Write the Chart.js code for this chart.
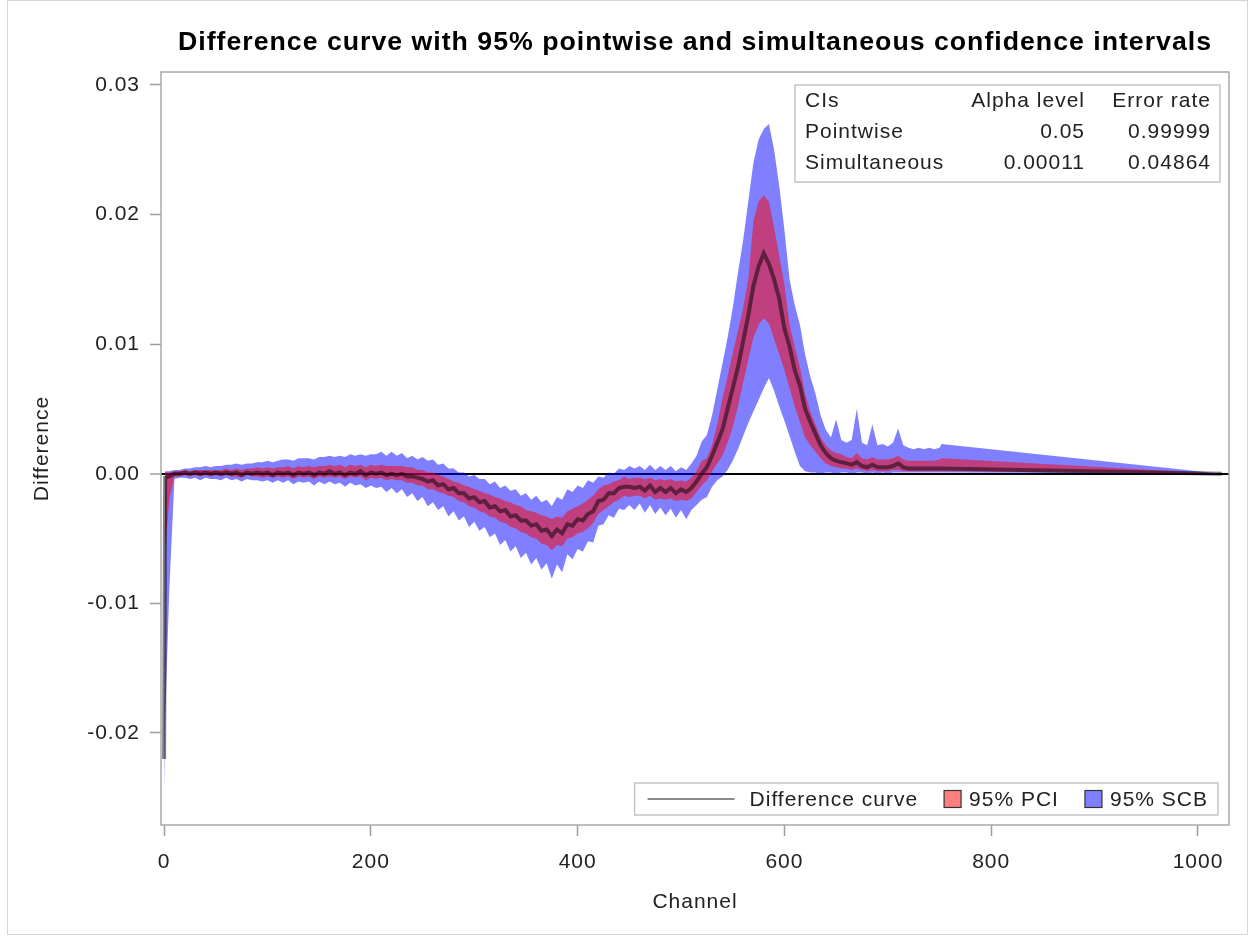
<!DOCTYPE html>
<html lang="en">
<head>
<meta charset="UTF-8">
<title>Difference curve</title>
<script src="https://cdn.jsdelivr.net/npm/chart.js@4.4.1/dist/chart.umd.min.js"></script>
<style>
    html, body { margin: 0; padding: 0; background: #fff; }
    .frame { position: relative; width: 1250px; height: 937px; }
    .frame::after {
        content: '';
        position: absolute;
        left: 7px; top: 0; right: 2px; bottom: 2px;
        border: 1px solid #d6d6d6;
        pointer-events: none;
    }
    canvas { display: block; }
</style>
</head>
<body>
<div class="frame">
    <canvas id="diffChart" width="1250" height="937"></canvas>
</div>
<script>
// Channels sampled every 5 (denser at the start), curve flat after ~750
const channels = [
    0, 1, 5,
    10, 15, 20, 25, 30, 35, 40, 45, 50, 55,
    60, 65, 70, 75, 80, 85, 90, 95, 100, 105,
    110, 115, 120, 125, 130, 135, 140, 145, 150, 155,
    160, 165, 170, 175, 180, 185, 190, 195, 200, 205,
    210, 215, 220, 225, 230, 235, 240, 245, 250, 255,
    260, 265, 270, 275, 280, 285, 290, 295, 300, 305,
    310, 315, 320, 325, 330, 335, 340, 345, 350, 355,
    360, 365, 370, 375, 380, 385, 390, 395, 400, 405,
    410, 415, 420, 425, 430, 435, 440, 445, 450, 455,
    460, 465, 470, 475, 480, 485, 490, 495, 500, 505,
    510, 515, 520, 525, 530, 535, 540, 545, 550, 555,
    560, 565, 570, 575, 580, 585, 590, 595, 600, 605,
    610, 615, 620, 625, 630, 635, 640, 645, 650, 655,
    660, 665, 670, 675, 680, 685, 690, 695, 700, 705,
    710, 715, 720, 725, 730, 735, 740, 745, 750, 752,
    1023
];

const diffCurve = [
    -0.022, -0.0003, -0.0002,
    0, 0, 0.0001, 0, 0.0001, 0, 0.0001, 0, 0.0001, 0,
    0.0001, 0, 0.0001, -0.0001, 0.0001, 0, 0.0001, 0, 0.0001, -0.0001,
    0.0001, 0, 0.0001, -0.0001, 0.0001, 0, 0.0001, -0.0001, 0.0001, 0,
    0.0002, 0, 0.0001, -0.0001, 0.0001, 0, 0.0002, -0.0001, 0.0001, 0,
    0.0001, -0.0001, 0, -0.0001, 0, -0.0002, -0.0002, -0.0003, -0.0004, -0.0006,
    -0.0005, -0.0009, -0.0008, -0.0012, -0.0011, -0.0015, -0.0015, -0.0019, -0.0018, -0.0022,
    -0.0021, -0.0026, -0.0025, -0.0029, -0.0028, -0.0033, -0.0032, -0.0036, -0.0036, -0.004,
    -0.0039, -0.0044, -0.0043, -0.0048, -0.0043, -0.0046, -0.0039, -0.004, -0.0035, -0.0036,
    -0.0031, -0.0029, -0.0021, -0.002, -0.0015, -0.0015, -0.0011, -0.001, -0.001, -0.0011,
    -0.001, -0.0013, -0.0009, -0.0014, -0.0011, -0.0014, -0.0011, -0.0015, -0.0012, -0.0014,
    -0.0011, -0.0006, 0, 0.0005, 0.0014, 0.0024, 0.0034, 0.005, 0.0066, 0.0082,
    0.0102, 0.0122, 0.0145, 0.016, 0.017, 0.0162, 0.015, 0.0135, 0.0112, 0.0098,
    0.008, 0.0068, 0.005, 0.004, 0.0031, 0.0022, 0.0016, 0.0012, 0.001, 0.0009,
    0.0008, 0.0007, 0.0009, 0.0006, 0.0005, 0.0007, 0.0005, 0.0005, 0.0005, 0.0006,
    0.0008, 0.0005, 0.0004, 0.0004, 0.0004, 0.0004, 0.0004, 0.0004, 0.0004, 0.0004,
    0
];

// 95% pointwise confidence interval
const pciLower = [
    -0.0232, -0.006, -0.002,
    -0.0002, -0.0002, -0.0001, -0.0002, -0.0001, -0.0002, -0.0001, -0.0002, -0.0001, -0.0002,
    -0.0001, -0.0002, -0.0002, -0.0003, -0.0001, -0.0002, -0.0002, -0.0003, -0.0002, -0.0003,
    -0.0002, -0.0003, -0.0002, -0.0004, -0.0002, -0.0003, -0.0002, -0.0004, -0.0002, -0.0003,
    -0.0002, -0.0003, -0.0002, -0.0004, -0.0002, -0.0003, -0.0002, -0.0005, -0.0003, -0.0004,
    -0.0003, -0.0005, -0.0004, -0.0005, -0.0005, -0.0007, -0.0007, -0.0009, -0.0009, -0.0012,
    -0.0012, -0.0014, -0.0015, -0.0017, -0.0018, -0.0021, -0.0022, -0.0025, -0.0026, -0.0029,
    -0.003, -0.0033, -0.0034, -0.0037, -0.0038, -0.0041, -0.0042, -0.0045, -0.0046, -0.0049,
    -0.005, -0.0054, -0.0055, -0.0059, -0.0055, -0.0056, -0.005, -0.0049, -0.0046, -0.0045,
    -0.0042, -0.0038, -0.0031, -0.0028, -0.0025, -0.0022, -0.002, -0.0017, -0.0018, -0.0017,
    -0.0017, -0.0019, -0.0017, -0.002, -0.0019, -0.002, -0.0019, -0.0021, -0.002, -0.0021,
    -0.0019, -0.0014, -0.0009, -0.0005, 0.0002, 0.0008, 0.0014, 0.0024, 0.0036, 0.0052,
    0.007, 0.0088, 0.0105, 0.0115, 0.012, 0.0116, 0.0104, 0.0092, 0.008, 0.0066,
    0.0052, 0.004, 0.0028, 0.0022, 0.0017, 0.0012, 0.0008, 0.0006, 0.0005, 0.0004,
    0.0004, 0.0003, 0.0004, 0.0003, 0.0002, 0.0003, 0.0002, 0.0002, 0.0002, 0.0003,
    0.0003, 0.0002, 0.0002, 0.0002, 0.0002, 0.0002, 0.0002, 0.0002, 0.0002, 0.0002,
    0
];

const pciUpper = [
    -0.0208, 0.0001, 0.0001,
    0.0002, 0.0002, 0.0003, 0.0002, 0.0003, 0.0003, 0.0003, 0.0003, 0.0003, 0.0003,
    0.0004, 0.0003, 0.0004, 0.0003, 0.0004, 0.0004, 0.0005, 0.0004, 0.0005, 0.0004,
    0.0005, 0.0005, 0.0006, 0.0004, 0.0006, 0.0005, 0.0006, 0.0005, 0.0006, 0.0006,
    0.0007, 0.0006, 0.0007, 0.0005, 0.0007, 0.0006, 0.0007, 0.0005, 0.0007, 0.0006,
    0.0007, 0.0006, 0.0006, 0.0006, 0.0006, 0.0005, 0.0005, 0.0003, 0.0003, 0.0001,
    0.0001, -0.0001, -0.0002, -0.0004, -0.0006, -0.0007, -0.0009, -0.001, -0.0012, -0.0013,
    -0.0015, -0.0016, -0.0018, -0.0019, -0.0021, -0.0022, -0.0024, -0.0025, -0.0028, -0.0029,
    -0.003, -0.0032, -0.0033, -0.0035, -0.0033, -0.0034, -0.0029, -0.0027, -0.0025, -0.0023,
    -0.002, -0.0017, -0.0012, -0.0009, -0.0008, -0.0006, -0.0005, -0.0002, -0.0004, -0.0003,
    -0.0003, -0.0004, -0.0003, -0.0005, -0.0004, -0.0005, -0.0004, -0.0006, -0.0005, -0.0006,
    -0.0003, 0.0002, 0.001, 0.0012, 0.0022, 0.0038, 0.0058, 0.0075, 0.0093, 0.011,
    0.0128, 0.015, 0.0195, 0.021, 0.0215, 0.021, 0.019, 0.0168, 0.0146, 0.0115,
    0.0098, 0.0082, 0.0062, 0.0048, 0.0038, 0.0028, 0.0022, 0.0018, 0.0016, 0.0015,
    0.0013, 0.0012, 0.0016, 0.0012, 0.0011, 0.0013, 0.0011, 0.0011, 0.0011, 0.0012,
    0.0014, 0.0011, 0.001, 0.001, 0.001, 0.001, 0.001, 0.001, 0.0011, 0.0012,
    0
];

// 95% simultaneous confidence band
const scbLower = [
    -0.0245, -0.019, -0.009,
    -0.0004, -0.0003, -0.0003, -0.0004, -0.0003, -0.0005, -0.0003, -0.0004, -0.0004, -0.0005,
    -0.0003, -0.0005, -0.0004, -0.0006, -0.0004, -0.0005, -0.0005, -0.0006, -0.0005, -0.0007,
    -0.0005, -0.0007, -0.0005, -0.0008, -0.0006, -0.0007, -0.0006, -0.0009, -0.0006, -0.0008,
    -0.0006, -0.0008, -0.0007, -0.001, -0.0007, -0.0009, -0.0008, -0.0011, -0.0009, -0.0011,
    -0.001, -0.0014, -0.0011, -0.0015, -0.0012, -0.0018, -0.0015, -0.0021, -0.0018, -0.0025,
    -0.0022, -0.0028, -0.0025, -0.0033, -0.0029, -0.0036, -0.0033, -0.0041, -0.0037, -0.0044,
    -0.0041, -0.0049, -0.0046, -0.0055, -0.0051, -0.006, -0.0056, -0.0065, -0.0061, -0.007,
    -0.0065, -0.0074, -0.0069, -0.0081, -0.007, -0.0076, -0.0062, -0.0066, -0.0058, -0.006,
    -0.0052, -0.0053, -0.004, -0.0039, -0.0032, -0.0034, -0.0027, -0.0028, -0.0024, -0.0028,
    -0.0023, -0.003, -0.0024, -0.0031, -0.0026, -0.0032, -0.0027, -0.0034, -0.0028, -0.0035,
    -0.0028, -0.0024, -0.002, -0.0018, -0.001, -0.0005, -0.0002, 0.0003, 0.001, 0.0019,
    0.0029, 0.0039, 0.0048, 0.0057, 0.0066, 0.0074, 0.0064, 0.0052, 0.0041, 0.0029,
    0.0017, 0.0006, 0.0002, 0.0001, 0.0001, 0, 0.0001, 0.0001, 0, 0.0001,
    0.0001, 0, 0.0001, 0.0001, 0, 0.0001, 0, 0.0001, 0, 0.0001,
    0.0001, 0.0001, 0.0001, 0.0001, 0.0001, 0.0001, 0.0001, 0.0001, 0.0001, 0.0001,
    0
];

const scbUpper = [
    -0.0195, 0.0002, 0.0002,
    0.0003, 0.0003, 0.0004, 0.0004, 0.0005, 0.0005, 0.0006, 0.0005, 0.0006, 0.0006,
    0.0007, 0.0007, 0.0008, 0.0007, 0.0008, 0.0008, 0.0009, 0.0009, 0.001, 0.0009,
    0.001, 0.0011, 0.0011, 0.001, 0.0012, 0.0012, 0.0012, 0.0011, 0.0013, 0.0013,
    0.0014, 0.0013, 0.0014, 0.0013, 0.0015, 0.0014, 0.0015, 0.0014, 0.0015, 0.0015,
    0.0017, 0.0014, 0.0017, 0.0014, 0.0016, 0.0012, 0.0014, 0.0011, 0.0013, 0.001,
    0.0011, 0.0007, 0.0008, 0.0004, 0.0004, 0.0001, 0.0001, -0.0002, -0.0001, -0.0004,
    -0.0004, -0.0008, -0.0006, -0.0011, -0.0009, -0.0013, -0.0012, -0.0017, -0.0015, -0.002,
    -0.0017, -0.0022, -0.002, -0.0025, -0.0018, -0.002, -0.0012, -0.0014, -0.0009, -0.0011,
    -0.0005, -0.0007, -0.0002, -0.0003, 0.0001, 0, 0.0004, 0.0003, 0.0006, 0.0004,
    0.0006, 0.0003, 0.0007, 0.0003, 0.0006, 0.0003, 0.0006, 0.0002, 0.0005, 0.0003,
    0.0008, 0.0014, 0.0025, 0.003, 0.0045, 0.0065, 0.0085, 0.0105, 0.0128, 0.0155,
    0.018, 0.021, 0.024, 0.0258, 0.0266, 0.027, 0.025, 0.0222, 0.0188, 0.015,
    0.013, 0.0115, 0.0092, 0.0075, 0.0062, 0.0045, 0.0034, 0.0028, 0.0042, 0.0026,
    0.0024, 0.0026, 0.005, 0.0024, 0.0022, 0.0038, 0.0022, 0.0023, 0.0021, 0.0024,
    0.0035, 0.0022, 0.002, 0.0019, 0.002, 0.0019, 0.002, 0.0019, 0.002, 0.0023,
    0
];

const xTicks = [0, 200, 400, 600, 800, 1000];
const yTicks = [-0.02, -0.01, 0, 0.01, 0.02, 0.03];

const ciTable = [
    ['CIs', 'Alpha level', 'Error rate'],
    ['Pointwise', '0.05', '0.99999'],
    ['Simultaneous', '0.00011', '0.04864']
];

const FONT = "'Liberation Sans', Arial, sans-serif";
const TEXT = '#222';
const SCB_FILL = 'rgba(0, 0, 255, 0.5)';
const PCI_FILL = 'rgba(255, 0, 0, 0.5)';
const CURVE = 'rgba(0, 0, 0, 0.5)';

Chart.defaults.font.family = FONT;
Chart.defaults.color = TEXT;

const toPoints = (values) => channels.map((c, i) => ({ x: c, y: values[i] }));

// SAS-like text is a bit wider than plain Arial
const letterSpacing = {
    id: 'letterSpacing',
    beforeDraw(chart) {
        chart.ctx.letterSpacing = '1px';
    }
};

// Plot frame, inset CI table and bottom-right legend
const decorations = {
    id: 'decorations',
    afterDraw(chart) {
        const { ctx, chartArea: a } = chart;
        ctx.save();

        ctx.strokeStyle = '#a9a9a9';
        ctx.lineWidth = 1.5;
        ctx.strokeRect(a.left, a.top, a.right - a.left, a.bottom - a.top);

        // CI table
        const tb = { width: 425, height: 97 };
        tb.left = a.right - 9 - tb.width;
        tb.top = a.top + 13;
        ctx.fillStyle = '#fff';
        ctx.fillRect(tb.left, tb.top, tb.width, tb.height);
        ctx.strokeStyle = '#c4c4c4';
        ctx.lineWidth = 1.5;
        ctx.strokeRect(tb.left, tb.top, tb.width, tb.height);
        ctx.font = `21px ${FONT}`;
        ctx.fillStyle = TEXT;
        ctx.textBaseline = 'middle';
        ciTable.forEach((row, r) => {
            const y = tb.top + 16 + r * 31;
            ctx.textAlign = 'left';
            ctx.fillText(row[0], tb.left + 10, y);
            ctx.textAlign = 'right';
            ctx.fillText(row[1], tb.left + 290, y);
            ctx.fillText(row[2], tb.left + tb.width - 9, y);
        });

        // Legend
        const ds = chart.data.datasets;
        const items = [
            { kind: 'line', label: ds[4].label },
            { kind: 'box', label: ds[3].label, color: ds[3].backgroundColor },
            { kind: 'box', label: ds[1].label, color: ds[1].backgroundColor }
        ];
        items.forEach(it => {
            it.textW = ctx.measureText(it.label).width;
            it.w = (it.kind === 'line' ? 87 + 15 : 17 + 8) + it.textW;
        });
        const gap = 26;
        const inner = items.reduce((s, it) => s + it.w, 0) + gap * (items.length - 1);
        const lg = { height: 32, width: inner + 13 + 10 };
        lg.left = a.right - 11 - lg.width;
        lg.top = a.bottom - 10 - lg.height;
        ctx.fillStyle = '#fff';
        ctx.fillRect(lg.left, lg.top, lg.width, lg.height);
        ctx.strokeStyle = '#c4c4c4';
        ctx.strokeRect(lg.left, lg.top, lg.width, lg.height);

        const cy = lg.top + lg.height / 2;
        let x = lg.left + 13;
        ctx.textAlign = 'left';
        items.forEach(it => {
            if (it.kind === 'line') {
                ctx.strokeStyle = '#666';
                ctx.lineWidth = 1.5;
                ctx.beginPath();
                ctx.moveTo(x, cy);
                ctx.lineTo(x + 87, cy);
                ctx.stroke();
                x += 87 + 15;
            } else {
                ctx.fillStyle = '#fff';
                ctx.fillRect(x, cy - 8.5, 17, 17);
                ctx.fillStyle = it.color;
                ctx.fillRect(x, cy - 8.5, 17, 17);
                ctx.strokeStyle = '#333';
                ctx.lineWidth = 1.2;
                ctx.strokeRect(x, cy - 8.5, 17, 17);
                x += 17 + 8;
            }
            ctx.fillStyle = TEXT;
            ctx.fillText(it.label, x, cy + 1);
            x += it.textW + gap;
        });

        ctx.restore();
    }
};

document.addEventListener('DOMContentLoaded', () => {
    const ctx = document.getElementById('diffChart').getContext('2d');

    const band = {
        pointRadius: 0,
        borderWidth: 0,
        borderColor: 'transparent',
        tension: 0
    };

    new Chart(ctx, {
        type: 'line',
        data: {
            datasets: [
                { ...band, label: 'SCB lower', data: toPoints(scbLower), fill: false, order: 4 },
                { ...band, label: '95% SCB', data: toPoints(scbUpper), fill: '-1', backgroundColor: SCB_FILL, order: 4 },
                { ...band, label: 'PCI lower', data: toPoints(pciLower), fill: false, order: 3 },
                { ...band, label: '95% PCI', data: toPoints(pciUpper), fill: '-1', backgroundColor: PCI_FILL, order: 3 },
                {
                    label: 'Difference curve',
                    data: toPoints(diffCurve),
                    borderColor: CURVE,
                    borderWidth: 4,
                    pointRadius: 0,
                    fill: false,
                    tension: 0,
                    order: 2
                }
            ]
        },
        options: {
            responsive: false,
            animation: false,
            events: [],
            devicePixelRatio: 1,
            layout: { padding: { left: 8, right: 21, top: 0, bottom: 10 } },
            plugins: {
                legend: { display: false },
                tooltip: { enabled: false },
                title: {
                    display: true,
                    fullSize: false,
                    text: 'Difference curve with 95% pointwise and simultaneous confidence intervals',
                    color: '#000',
                    font: { size: 26.7, weight: 'bold' },
                    padding: { top: 27, bottom: 13 }
                }
            },
            scales: {
                x: {
                    type: 'linear',
                    min: -3,
                    max: 1030,
                    afterBuildTicks: (axis) => { axis.ticks = xTicks.map(v => ({ value: v })); },
                    afterFit: (axis) => { axis.height = 102; },
                    border: { display: false },
                    grid: { drawOnChartArea: false, tickLength: 11, tickColor: '#9d9d9d', tickWidth: 1.5 },
                    ticks: {
                        font: { size: 21 },
                        color: TEXT,
                        padding: 14,
                        maxRotation: 0,
                        callback: (v) => String(v)
                    },
                    title: {
                        display: true,
                        text: 'Channel',
                        font: { size: 21 },
                        color: TEXT,
                        padding: { top: 0, bottom: 12 }
                    }
                },
                y: {
                    type: 'linear',
                    min: -0.0271,
                    max: 0.031,
                    z: 1,
                    afterBuildTicks: (axis) => { axis.ticks = yTicks.map(v => ({ value: v })); },
                    afterFit: (axis) => { axis.width = 153; },
                    border: { display: false },
                    grid: {
                        color: (c) => (c.tick && c.tick.value === 0 ? '#000' : 'rgba(0,0,0,0)'),
                        lineWidth: (c) => (c.tick && c.tick.value === 0 ? 2 : 1),
                        tickLength: 11,
                        tickColor: '#9d9d9d',
                        tickWidth: 1.5
                    },
                    ticks: {
                        font: { size: 21 },
                        color: TEXT,
                        padding: 10,
                        callback: (v) => v.toFixed(2)
                    },
                    title: {
                        display: true,
                        text: 'Difference',
                        font: { size: 21 },
                        color: TEXT,
                        padding: { top: 21.4, bottom: 0 }
                    }
                }
            }
        },
        plugins: [letterSpacing, decorations]
    });
});
</script>
</body>
</html>
